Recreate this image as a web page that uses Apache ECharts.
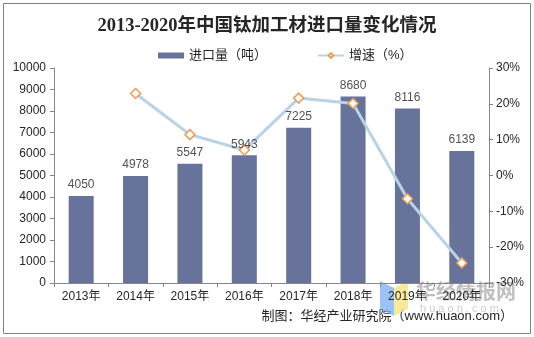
<!DOCTYPE html>
<html>
<head>
<meta charset="utf-8">
<script src="https://cdn.jsdelivr.net/npm/echarts@6/dist/echarts.min.js"></script>
<style>
html,body{margin:0;padding:0;background:#fff;}
#chart{width:534px;height:337px;}
</style>
</head>
<body>
<div id="chart"></div>
<script>
// 2013-2020 titanium processed material imports
const years = ['2013年','2014年','2015年','2016年','2017年','2018年','2019年','2020年'];
const importVolume = [4050, 4978, 5547, 5943, 7225, 8680, 8116, 6139];
const growthRate = [null, 22.9, 11.4, 7.1, 21.6, 20.1, -6.5, -24.4];
const leftTicks = { min: 0, max: 10000, interval: 1000 };
const rightTicks = { min: -30, max: 30, interval: 10 };

const sans = '"Liberation Sans", Arial, "Noto Sans CJK SC", sans-serif';
const chart = echarts.init(document.getElementById('chart'), null, { renderer: 'canvas' });

chart.setOption({
  backgroundColor: '#ffffff',
  animation: false,
  title: {
    text: '2013-2020年中国钛加工材进口量变化情况',
    left: 'center',
    top: 12,
    textStyle: {
      fontFamily: '"Liberation Serif", "Noto Sans CJK SC", serif',
      fontWeight: 'bold',
      fontSize: 18.5,
      color: '#262626'
    }
  },
  legend: {
    top: 44,
    left: 153,
    itemGap: 50,
    itemWidth: 26,
    itemHeight: 6,
    textStyle: { fontFamily: sans, fontSize: 13, color: '#262626' },
    data: [
      { name: '进口量（吨）', icon: 'rect' },
      { name: '增速（%）' }
    ]
  },
  grid: { left: 54, right: 45, top: 68, bottom: 54 },
  xAxis: {
    type: 'category',
    data: years,
    axisLine: { lineStyle: { color: '#868686', width: 1 } },
    axisTick: { show: true, alignWithLabel: false, length: 4, lineStyle: { color: '#868686' } },
    axisLabel: { fontFamily: sans, fontSize: 12, color: '#262626', margin: 8 }
  },
  yAxis: [
    {
      type: 'value',
      min: leftTicks.min, max: leftTicks.max, interval: leftTicks.interval,
      splitLine: { show: false },
      axisLine: { show: true, lineStyle: { color: '#868686' } },
      axisTick: { show: true, length: 4, lineStyle: { color: '#868686' } },
      axisLabel: { fontFamily: sans, fontSize: 12, color: '#262626', margin: 8, formatter: (v) => String(v) }
    },
    {
      type: 'value',
      min: rightTicks.min, max: rightTicks.max, interval: rightTicks.interval,
      position: 'right',
      splitLine: { show: false },
      axisLine: { show: true, lineStyle: { color: '#868686' } },
      axisTick: { show: true, length: 4, lineStyle: { color: '#868686' } },
      axisLabel: { fontFamily: sans, fontSize: 12, color: '#262626', margin: 7, formatter: '{value}%' }
    }
  ],
  series: [
    {
      name: '进口量（吨）',
      type: 'bar',
      data: importVolume,
      barWidth: '46%',
      itemStyle: { color: '#67739a' },
      z: 2
    },
    {
      name: '增速（%）',
      type: 'line',
      yAxisIndex: 1,
      data: growthRate,
      symbol: 'diamond',
      symbolSize: 10,
      showSymbol: true,
      lineStyle: { color: '#b7d3e5', width: 3 },
      itemStyle: { color: '#ffffff', borderColor: '#f29a50', borderWidth: 1.5 },
      z: 3
    },
    {
      // value labels above the bars, kept on top of the growth line
      name: 'volumeLabels',
      type: 'scatter',
      data: importVolume,
      symbolSize: 0,
      silent: true,
      z: 10,
      label: {
        show: true,
        position: 'top',
        distance: 5,
        fontFamily: sans,
        fontSize: 12,
        color: '#262626',
        formatter: (p) => String(p.value)
      }
    }
  ],
  graphic: [
    {
      type: 'rect',
      shape: { x: 3.5, y: 3.5, width: 527, height: 330 },
      style: { fill: 'none', stroke: '#808080', lineWidth: 1 },
      silent: true
    },
    {
      type: 'text',
      right: 21,
      top: 310,
      style: {
        text: '制图：华经产业研究院（www.huaon.com）',
        fontFamily: sans,
        fontSize: 13,
        fill: '#262626'
      }
    },
    {
      type: 'polygon',
      shape: { points: [[380, 281], [394, 288], [394, 316], [380, 309]] },
      style: { fill: 'rgba(120,175,245,0.75)' },
      silent: true
    },
    {
      type: 'polygon',
      shape: { points: [[394, 288], [408, 281], [408, 309], [394, 316]] },
      style: { fill: 'rgba(250,225,120,0.75)' },
      silent: true
    },
    {
      type: 'text',
      left: 416,
      top: 281,
      style: {
        text: '华经情报网',
        fontFamily: '"Noto Sans CJK SC", sans-serif',
        fontWeight: 'bold',
        fontSize: 20,
        fill: 'rgba(150,150,150,0.6)'
      },
      silent: true
    },
    {
      type: 'text',
      left: 420,
      top: 303,
      style: {
        text: 'h u a o n . c o m',
        fontFamily: sans,
        fontSize: 11,
        fill: 'rgba(170,170,170,0.6)'
      },
      silent: true
    }
  ]
});
</script>
</body>
</html>
